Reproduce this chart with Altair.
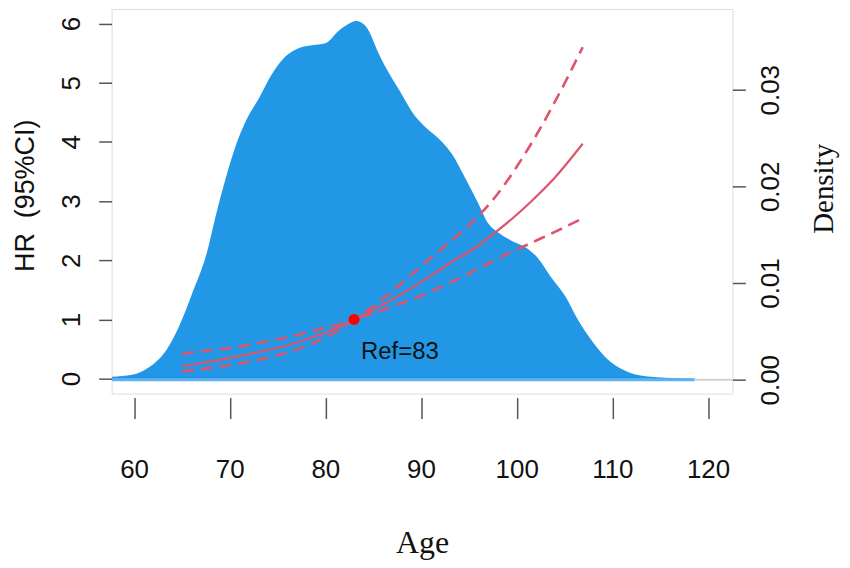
import altair as alt
import pandas as pd

# ---- data ----
dens_age = [57.7, 59.8, 61.6, 63.4, 64.7, 66.1, 67.6, 68.6, 69.6, 70.7, 71.7, 73.1, 74.4, 75.9,
            77.2, 78.6, 80.0, 81.4, 82.4, 83.2, 84.2, 85.6, 86.2, 86.9, 87.7, 88.4, 89.0, 89.7,
            90.5, 92.1, 93.2, 94.6, 96.0, 97.0, 98.1, 99.4, 100.9, 102.2, 103.6, 105.1, 106.4,
            107.8, 109.2, 110.6, 111.9, 114.0, 115.5, 118.6]
dens = [0.0003, 0.0005, 0.0013, 0.0031, 0.0055, 0.0090, 0.0131, 0.0172, 0.0209, 0.0244, 0.0268,
        0.0292, 0.0316, 0.0335, 0.0343, 0.0346, 0.0348, 0.0361, 0.0368, 0.0371, 0.0366, 0.0337,
        0.0325, 0.0313, 0.0300, 0.0288, 0.0278, 0.0269, 0.0261, 0.0247, 0.0234, 0.0209, 0.0182,
        0.0162, 0.0152, 0.0144, 0.0137, 0.0126, 0.0106, 0.0086, 0.0062, 0.0041, 0.0024, 0.0013,
        0.0007, 0.0003, 0.0002, 0.0001]

hr_age = [65, 67, 70, 73, 76, 79, 81, 83, 85, 87, 90, 93, 96, 98, 100, 102, 104, 106.9]
hr_est = [0.21, 0.26, 0.35, 0.45, 0.56, 0.72, 0.84, 1.00, 1.16, 1.34, 1.63, 1.95, 2.25, 2.50,
          2.77, 3.07, 3.40, 3.97]
hr_upper = [0.42, 0.46, 0.52, 0.60, 0.70, 0.82, 0.90, 1.00, 1.22, 1.48, 1.90, 2.31, 2.75, 3.12,
            3.58, 4.10, 4.68, 5.60]
hr_lower = [0.12, 0.16, 0.23, 0.32, 0.44, 0.62, 0.78, 1.00, 1.10, 1.22, 1.40, 1.62, 1.86, 2.03,
            2.18, 2.33, 2.48, 2.71]

ref_age = [83]
ref_hr = [1.0]
ref_label = ["Ref=83"]

x_ticks = [60, 70, 80, 90, 100, 110, 120]
hr_ticks = [0, 1, 2, 3, 4, 5, 6]
dens_ticks = [0.0, 0.01, 0.02, 0.03]

dens_df = pd.DataFrame({"age": dens_age, "density": dens})
hr_df = pd.DataFrame({"age": hr_age, "hr": hr_est, "lo": hr_lower, "hi": hr_upper})
ref_df = pd.DataFrame({"age": ref_age, "hr": ref_hr, "label": ref_label})
base_df = pd.DataFrame({"a": [57.7], "b": [118.6]})

X_DOMAIN = [57.656, 122.55]
TICK_COLOR = "#555555"

x_enc = alt.X(
    "age:Q",
    scale=alt.Scale(domain=X_DOMAIN, nice=False, zero=False),
    axis=alt.Axis(
        values=x_ticks, title="Age", grid=False, domain=False, tickSize=21, offset=4,
        tickColor=TICK_COLOR, tickWidth=1.5, labelFontSize=26, labelFont="Liberation Sans",
        labelColor="#111111", labelPadding=38, labelFlush=False,
        titleFont="Liberation Serif", titleFontSize=32, titleFontWeight="normal",
        titleColor="#111111", titleY=145, titleBaseline="middle",
    ),
)

dens_scale = alt.Scale(domain=[-0.00144, 0.03835], nice=False, zero=False)
dens_axis = alt.Axis(
    orient="right", values=dens_ticks, format=".2f", title="Density", grid=False,
    domain=False, tickSize=13, tickColor=TICK_COLOR, tickWidth=1.5,
    labelFontSize=26, labelFont="Liberation Sans", labelColor="#111111",
    labelAngle=270, labelAlign="center", labelBaseline="alphabetic", labelPadding=33,
    titleFont="Liberation Serif", titleFontSize=29, titleFontWeight="normal",
    titleColor="#111111", titleAngle=270, titleX=91, titleY=180,
    titleAlign="center", titleBaseline="middle",
)

area = alt.Chart(dens_df).mark_area(color="#2297E6", interpolate="monotone", opacity=1).encode(
    x=x_enc,
    y=alt.Y("density:Q", scale=dens_scale, axis=dens_axis),
    y2=alt.datum(0),
)
base_blue = alt.Chart(base_df).mark_rule(color="#5DB2F0", strokeWidth=3).encode(
    x="a:Q", x2="b:Q", y=alt.datum(0)
)
base_grey = alt.Chart(base_df).mark_rule(color="#d0d0d0", strokeWidth=2).encode(
    x="b:Q", x2=alt.datum(122.55), y=alt.datum(0)
)
dens_layer = alt.layer(area, base_blue, base_grey)

hr_scale = alt.Scale(domain=[-0.2525, 6.246], nice=False, zero=False)
hr_axis = alt.Axis(
    orient="left", values=hr_ticks, format="d", title="HR\u00a0 (95%CI)", grid=False,
    domain=False, tickSize=13, tickColor=TICK_COLOR, tickWidth=1.5,
    labelFontSize=26, labelFont="Liberation Sans", labelColor="#111111",
    labelAngle=270, labelAlign="center", labelBaseline="alphabetic", labelPadding=19,
    titleFont="Liberation Sans", titleFontSize=27, titleFontWeight="normal",
    titleColor="#111111", titleAngle=270, titleX=-86, titleY=187,
    titleAlign="center", titleBaseline="middle",
)

RED = "#DF536B"
est = alt.Chart(hr_df).mark_line(color=RED, strokeWidth=2.2, interpolate="monotone").encode(
    x="age:Q", y=alt.Y("hr:Q", scale=hr_scale, axis=hr_axis)
)
lo = alt.Chart(hr_df).mark_line(color=RED, strokeWidth=2.6, strokeDash=[12, 7],
                                interpolate="monotone").encode(x="age:Q", y="lo:Q")
hi = alt.Chart(hr_df).mark_line(color=RED, strokeWidth=2.6, strokeDash=[12, 7],
                                interpolate="monotone").encode(x="age:Q", y="hi:Q")
pt = alt.Chart(ref_df).mark_point(filled=True, color="#FF0000", size=120, opacity=1).encode(
    x="age:Q", y="hr:Q"
)
txt = alt.Chart(ref_df).mark_text(
    align="left", baseline="middle", font="Liberation Sans", fontSize=24, color="#111111",
    dx=7, dy=33,
).encode(x="age:Q", y="hr:Q", text="label:N")

hr_layer = alt.layer(est, lo, hi, pt, txt)

chart = alt.layer(dens_layer, hr_layer).resolve_scale(y="independent").properties(
    width=623, height=386,
    autosize=alt.AutoSizeParams(type="none"),
    padding={"left": 104, "top": 0, "right": 110, "bottom": 168},
).configure_view(stroke="#555555", strokeWidth=1.5).configure(background="white")

chart.save("out.html", embed_options={"renderer": "svg", "actions": False})
